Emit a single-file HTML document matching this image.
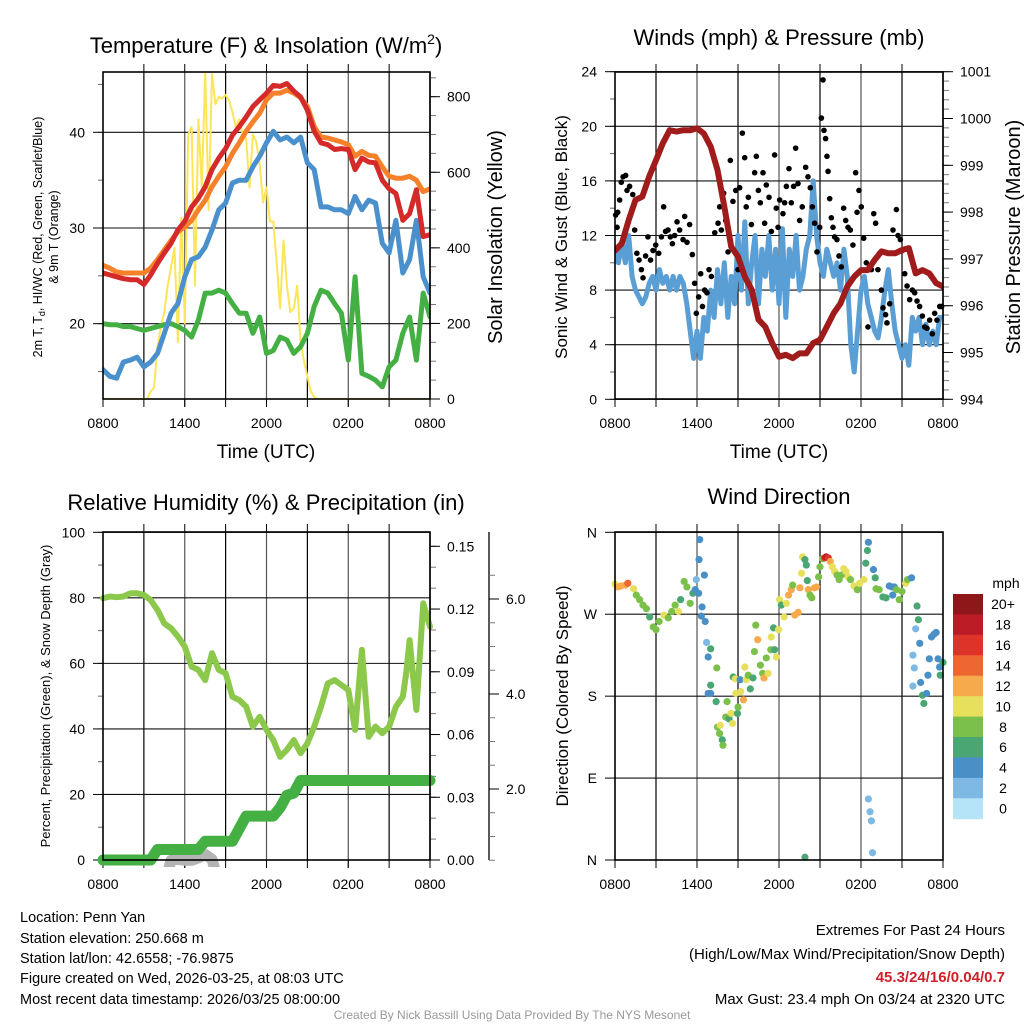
<!DOCTYPE html>
<html><head><meta charset="utf-8">
<style>
body{margin:0;background:#fff;}
svg{display:block;font-family:"Liberation Sans",Arial,sans-serif;}
</style></head>
<body>
<svg id="root" width="1024" height="1024" viewBox="0 0 1024 1024" xmlns="http://www.w3.org/2000/svg">
<rect x="0" y="0" width="1024" height="1024" fill="#fff"/>
<text x="266" y="53" font-size="22" text-anchor="middle">Temperature (F) &amp; Insolation (W/m<tspan font-size="14" dy="-9">2</tspan><tspan dy="9">)</tspan></text>
<text x="779" y="45" font-size="22" text-anchor="middle">Winds (mph) &amp; Pressure (mb)</text>
<text x="266" y="510" font-size="22" text-anchor="middle">Relative Humidity (%) &amp; Precipitation (in)</text>
<text x="779" y="504" font-size="22" text-anchor="middle">Wind Direction</text>

<text transform="translate(42,237) rotate(-90)" font-size="12.5" text-anchor="middle">2m T, T<tspan font-size="9" dy="3">d</tspan><tspan dy="-3">, HI/WC (Red, Green, Scarlet/Blue)</tspan></text>
<text transform="translate(58,237) rotate(-90)" font-size="12.5" text-anchor="middle">&amp; 9m T (Orange)</text>
<text transform="translate(502,237) rotate(-90)" font-size="20" text-anchor="middle">Solar Insolation (Yellow)</text>
<text transform="translate(567,237) rotate(-90)" font-size="17" text-anchor="middle">Sonic Wind &amp; Gust (Blue, Black)</text>
<text transform="translate(1020,237) rotate(-90)" font-size="20" text-anchor="middle">Station Pressure (Maroon)</text>
<text transform="translate(50,696) rotate(-90)" font-size="13" text-anchor="middle">Percent, Precipitation (Green), &amp; Snow Depth (Gray)</text>
<text transform="translate(568,696) rotate(-90)" font-size="17" text-anchor="middle">Direction (Colored By Speed)</text>
<text x="266" y="458" font-size="19" text-anchor="middle">Time (UTC)</text>
<text x="779" y="458" font-size="19" text-anchor="middle">Time (UTC)</text>

<g font-size="14.5">
<text x="20" y="922">Location: Penn Yan</text>
<text x="20" y="943">Station elevation: 250.668 m</text>
<text x="20" y="963">Station lat/lon: 42.6558; -76.9875</text>
<text x="20" y="983">Figure created on Wed, 2026-03-25, at 08:03 UTC</text>
<text x="20" y="1004">Most recent data timestamp: 2026/03/25 08:00:00</text>
</g>
<g font-size="15" text-anchor="end">
<text x="1005" y="935">Extremes For Past 24 Hours</text>
<text x="1005" y="959">(High/Low/Max Wind/Precipitation/Snow Depth)</text>
<text x="1005" y="982" fill="#d0202a" font-weight="bold">45.3/24/16/0.04/0.7</text>
<text x="1005" y="1004">Max Gust: 23.4 mph On 03/24 at 2320 UTC</text>
</g>
<text x="512" y="1019" font-size="12" fill="#999" text-anchor="middle">Created By Nick Bassill Using Data Provided By The NYS Mesonet</text>
<g id="charts"></g>
</svg>
<script>
// ---------- data ----------
const timeLabels = ["0800","1400","2000","0200","0800"];
const tempRed = [25.3,25.1,24.9,24.7,24.6,24.6,24.1,25.1,26.3,27.4,28.4,29.8,30.7,32.2,33.1,34.3,36.1,37.3,38.3,39.7,40.6,41.6,42.7,43.4,44.1,44.9,44.8,45.1,44.3,43.7,42.3,40.1,38.9,38.7,38.2,38.3,38.2,36.1,37.3,36.9,36.8,35.0,34.1,33.6,30.8,31.5,34.0,29.1,29.3];
const tempOrange = [26.1,25.8,25.4,25.3,25.3,25.3,25.3,25.8,26.7,27.7,28.7,29.6,30.1,30.8,31.9,32.9,34.3,35.4,36.4,37.8,38.9,40.1,41.1,42.0,43.4,44.1,44.1,44.4,44.1,43.6,42.7,40.6,39.5,39.4,39.2,39.0,38.7,37.5,38.0,37.6,37.5,36.4,35.4,35.2,35.2,35.4,35.0,33.8,34.1];
const tempBlue = [15.2,14.5,14.3,16.0,16.2,16.5,15.5,16.0,16.9,19.0,21.1,22.1,24.9,26.7,27.0,28.0,29.8,31.9,32.6,34.7,35.0,35.0,36.4,37.5,38.9,40.1,39.2,39.5,38.9,39.5,36.8,36.1,32.2,32.2,31.9,31.9,31.5,33.3,31.9,32.9,32.6,28.4,27.4,30.8,25.3,26.7,30.8,24.9,23.2];
const dewGreen = [20.0,19.9,19.9,19.7,19.7,19.5,19.3,19.5,19.7,19.9,20.0,19.7,19.3,18.6,20.4,23.2,23.2,23.5,23.2,22.1,21.1,21.1,19.0,20.7,16.9,17.2,18.6,18.3,16.9,17.6,19.0,21.8,23.5,23.2,22.1,21.1,16.2,24.9,14.8,14.5,14.1,13.4,15.5,16.2,19.0,20.7,16.2,23.2,20.7];
const insolation = [0,0,0,0,0,0,0,0,0,0,0,0,0,0,20,30,140,190,230,300,350,400,150,480,200,700,720,300,740,560,865,500,860,780,800,795,805,790,760,720,740,700,690,560,700,680,620,520,560,470,470,360,240,420,300,230,240,300,150,100,60,20,5,0,0,0,0,0,0,0,0,0,0,0,0,0,0,0,0,0,0,0,0,0,0,0,0,0,0,0,0,0,0,0,0,0,0];
const pressure = [997.18,997.33,997.83,998.26,998.33,998.76,999.11,999.47,999.75,999.72,999.75,999.75,999.79,999.68,999.4,998.9,998.12,997.26,997.05,996.62,996.34,995.7,995.55,995.2,994.91,994.95,994.88,994.98,994.98,995.2,995.27,995.55,995.84,996.05,996.41,996.62,996.76,996.76,996.98,997.16,997.12,997.12,997.19,997.23,996.69,996.76,996.69,996.48,996.41];
const windSpeed = [11,10,11.5,10,12,9,8,7.5,7,7.5,8.5,9,8,9.5,8.5,9,8,9,8,9,8.5,7,5,3,5,3,6,5,8,6,9.5,7,10,6,9,7,12,8,13,7,10,12,7,11,9,12,8,11,7,12.5,6,11,9,12,8,9,11,12,16,12,10,9,11,10,9,10,8,11,9,4,2,5,8,9,7,6,5,4.5,6,8,9.5,7,5,4,3,4,2.5,6,5,6,4,5.5,4,5,4,6,6];
const gustTimes = [0.05,0.15,0.2,0.34,0.46,0.59,0.78,0.88,1.07,1.3,1.44,1.6,1.76,1.93,2.05,2.24,2.41,2.6,2.78,2.98,3.2,3.4,3.56,3.7,3.88,4.05,4.2,4.37,4.54,4.73,4.98,5.1,5.27,5.46,5.66,5.83,5.95,6.12,6.27,6.4,6.56,6.73,6.88,7.05,7.3,7.54,7.66,7.78,7.95,8.1,8.27,8.44,8.63,8.83,9.0,9.12,9.32,9.49,9.6,9.76,9.98,10.22,10.34,10.49,10.63,10.83,10.95,11.07,11.27,11.44,11.68,11.8,11.93,12.05,12.29,12.41,12.54,12.73,12.9,13.07,13.22,13.39,13.51,13.7,13.95,14.12,14.29,14.44,14.61,14.78,14.98,15.1,15.22,15.29,15.41,15.51,15.59,15.71,15.83,15.95,16.07,16.24,16.39,16.56,16.73,16.88,17.05,17.22,17.41,17.61,17.71,17.85,18.02,18.2,18.39,18.51,18.76,18.93,19.07,19.24,19.37,19.49,19.61,19.8,19.9,20.1,20.34,20.59,20.71,20.88,21.02,21.2,21.37,21.56,21.76,21.93,22.1,22.29,22.49,22.66,22.83,23.02,23.22,23.39,23.56,23.76,23.9];
const gustValues = [13.5,12.6,13.7,14.6,15.9,16.3,16.4,15.3,15.6,15.0,12.4,10.7,10.2,9.5,8.9,10.5,11.9,10.2,10.9,11.3,10.7,11.9,14.1,12.3,12.4,11.9,11.4,12.0,13.0,12.4,11.7,13.4,11.5,12.8,10.6,8.5,6.3,7.5,9.2,6.8,8.0,7.8,9.5,9.0,12.2,12.9,14.1,12.4,15.1,13.1,10.8,17.5,14.5,15.3,9.5,15.5,19.5,17.7,14.1,14.8,12.8,16.6,17.8,15.3,14.4,16.6,12.9,15.7,14.8,12.3,17.9,14.0,12.6,14.6,13.6,14.4,15.6,16.9,14.4,15.6,18.4,15.8,13.1,14.1,17.0,16.3,15.5,14.1,12.9,10.8,12.6,20.6,23.4,19.7,19.1,17.8,16.7,14.7,13.3,12.6,11.9,11.7,10.5,9.7,14.0,13.1,12.6,12.4,11.3,16.6,13.7,15.3,14.1,11.8,10.0,5.3,9.5,13.6,12.9,9.5,10.7,8.0,6.7,6.2,5.6,7.0,12.4,13.9,12.0,11.7,10.9,9.2,8.3,7.3,8.0,7.8,7.2,6.8,6.1,5.3,5.2,5.8,4.8,6.3,5.8,6.8,6.8];
const humidity = [79.9,80.4,80.2,80.4,81.4,81.4,80.9,79.3,76.3,72.2,70.7,68.2,65.1,59.0,58.0,54.9,63.1,58.0,57.0,49.8,48.8,46.8,40.7,43.7,39.7,36.6,31.5,33.6,36.6,32.6,35.6,40.7,46.8,53.9,54.9,53.4,51.9,39.7,64.1,37.6,40.7,38.7,40.7,46.8,49.8,57.0,67.1,45.8,78.3,71.2];
const humidityTimes = [0,0.5,1,1.5,2,2.5,3,3.5,4,4.5,5,5.5,6,6.5,7,7.5,8,8.5,9,9.5,10,10.5,11,11.5,12,12.5,13,13.5,14,14.5,15,15.5,16,16.5,17,17.5,18,18.5,19,19.5,20,20.5,21,21.5,22,22.25,22.5,23,23.5,24];
const precip = [0,0,0,0,0,0,0,0,0.005,0.005,0.005,0.005,0.005,0.005,0.005,0.009,0.009,0.009,0.009,0.009,0.015,0.021,0.021,0.021,0.021,0.021,0.025,0.031,0.032,0.038,0.038,0.038,0.038,0.038,0.038,0.038,0.038,0.038,0.038,0.038,0.038,0.038,0.038,0.038,0.038,0.038,0.038,0.038,0.038];
const snowDepth = [0,0,0,0,0,0,0,0,0,0,0.5,0.52,0.5,0.5,0.55,0.62,0.52,0,0,0,0,0,0,0,0,0,0,0,0,0,0,0,0,0,0,0,0,0,0,0,0,0,0,0,0,0,0,0,0];
const dirTimes = [0,0.2,0.44,0.77,0.94,1.36,1.56,1.8,2.05,2.3,2.54,2.8,3.0,3.23,3.58,3.9,4.15,4.4,4.64,4.8,5.06,5.26,5.5,5.7,5.87,5.95,6.12,6.2,6.15,6.37,6.54,6.32,6.6,6.7,6.82,7.0,6.82,7.0,7.0,7.4,7.45,7.5,7.7,7.65,7.85,7.9,8.1,8.2,8.35,8.5,8.6,8.65,8.8,8.84,8.96,9.0,9.16,9.2,9.4,9.5,9.6,9.75,9.9,10.1,10.2,10.3,10.44,10.64,10.8,10.9,11.07,11.2,11.4,11.43,11.6,11.68,11.8,11.97,12.05,12.17,12.37,12.54,12.7,12.9,13.0,13.16,13.4,13.53,13.65,13.72,13.9,14.0,14.07,14.15,14.27,14.4,14.6,14.75,14.9,15.0,15.2,15.34,15.45,15.6,15.75,15.9,16.07,16.25,16.4,16.57,16.74,16.9,17.06,17.23,17.48,17.73,17.9,18.22,18.35,18.47,18.54,18.91,19.04,19.1,19.33,19.6,19.83,20.07,20.27,20.32,20.44,20.6,20.8,21.0,21.26,21.4,21.7,22.1,22.2,22.0,22.3,21.8,21.9,21.8,22.36,22.5,22.6,22.8,22.9,23.0,23.16,23.34,23.5,23.64,23.75,23.8,24.0,18.54,18.66,18.76,18.84,13.9];
const dirValues = [303,300,301,302,304,298,291,286,280,276,267,256,253,262,269,266,273,280,273,286,306,300,282,293,297,308,293,352,330,278,313,268,262,239,223,232,183,183,192,174,211,146,148,139,132,126,157,174,155,161,150,201,199,183,161,168,198,185,176,212,198,203,188,200,229,258,242,214,205,200,222,205,231,245,255,231,223,253,286,280,267,282,291,297,302,269,272,299,315,333,330,324,307,297,291,288,299,300,311,322,331,332,333,332,328,322,317,313,308,313,320,317,311,308,301,297,304,308,326,340,349,319,310,298,297,289,288,301,300,291,300,297,286,295,304,308,310,279,264,254,238,225,211,191,195,181,172,183,203,221,245,248,250,221,212,203,217,67,53,43,8,3];
const dirSpeeds = [10,12,12,12,13,10,8,8,8,8,6,8,8,8,10,8,8,8,10,6,8,8,8,6,4,2,4,4,4,4,4,4,4,2,4,6,4,4,6,6,8,8,10,8,6,8,8,8,6,10,10,6,10,10,6,8,4,10,12,10,10,8,6,6,8,8,12,8,8,12,8,10,8,10,6,6,10,10,10,6,10,10,12,12,8,12,12,12,10,10,6,6,6,12,8,8,12,12,8,8,8,16,18,16,12,10,10,8,8,8,10,10,10,8,10,8,10,10,6,6,4,4,6,8,8,6,6,4,4,4,4,8,8,8,10,8,4,6,6,2,4,2,2,2,4,6,6,4,4,4,4,4,4,4,4,6,6,2,2,2,2,6];
const speedLevels = ["0","2","4","6","8","10","12","14","16","18","20+"];
const speedColors = ["#b5e3f7","#7db9e3","#4a8fc6","#4aa773","#7bc04b","#e7e05c","#f6aa4b","#ee6630","#dc3429","#bb1c25","#8e1819"];

// ---------- helpers ----------
const NS = "http://www.w3.org/2000/svg";
const root = document.getElementById("charts");
function mk(tag, attrs, parent){
  const e = document.createElementNS(NS, tag);
  for (const k in attrs) e.setAttribute(k, attrs[k]);
  (parent || root).appendChild(e);
  return e;
}
function linScale(d0,d1,r0,r1){ return v => r0 + (v-d0)/(d1-d0)*(r1-r0); }
function pathFrom(xs, ys){ let d=""; for(let i=0;i<xs.length;i++){ d += (i?"L":"M")+xs[i].toFixed(1)+","+ys[i].toFixed(1);} return d; }
function evenTimes(n){ const a=[]; for(let i=0;i<n;i++) a.push(24*i/(n-1)); return a; }

function frame(P, name){
  const g = mk("g", {});
  
  
  for (let h=3; h<24; h+=3){
    const x = P.x(h);
    const l = mk("line", {x1:x,y1:P.y0,x2:x,y2:P.y1,stroke:(h%6===0?"#555":"#000"),"stroke-width":1.2}, g);
    
    
    const t = mk("line", {x1:x,y1:P.y1,x2:x,y2:P.y1+8,stroke:"#000","stroke-width":1}, g);
    
    
    const t2 = mk("line", {x1:x,y1:P.y0,x2:x,y2:P.y0-8,stroke:"#000","stroke-width":1}, g);
    
    
  }
  for (let i=0;i<timeLabels.length;i++){
    const x = P.x(i*6);
    const tk = mk("line", {x1:x,y1:P.y1,x2:x,y2:P.y1+8,stroke:"#000","stroke-width":1}, g);
    
    
    const tl = mk("text", {x:x,y:P.y1+29,"font-size":14,"text-anchor":"middle"}, g);
    tl.textContent = timeLabels[i];
    
    
  }
  return g;
}
function border(P){
  const r = mk("rect", {x:P.x0,y:P.y0,width:P.x1-P.x0,height:P.y1-P.y0,fill:"none",stroke:"#000","stroke-width":1.6});
  
  
}
function leftAxis(P, ys, majors, minors, labels, grid){
  for (const m of minors){
    const y=ys(m); if(y<P.y0-0.5||y>P.y1+0.5) continue;
    const t = mk("line",{x1:P.x0-5,y1:y,x2:P.x0,y2:y,stroke:"#666","stroke-width":1});
    
    
  }
  majors.forEach((m,i)=>{
    const y=ys(m);
    if (grid){
      const gl = mk("line",{x1:P.x0,y1:y,x2:P.x1,y2:y,stroke:"#111","stroke-width":1.1});
      
      
    }
    const t = mk("line",{x1:P.x0-10,y1:y,x2:P.x0,y2:y,stroke:"#000","stroke-width":1});
    
    
    const tl = mk("text",{x:P.x0-18,y:y+5,"font-size":14,"text-anchor":"end"});
    tl.textContent = labels[i];
    
    
  });
}
function rightAxis(P, ax, ys, majors, minors, labels, y0, y1){
  const a = mk("line",{x1:ax,y1:y0,x2:ax,y2:y1,stroke:"#000","stroke-width":1.3});
  
  
  for (const m of minors){
    const y=ys(m); if(y<y0-0.5||y>y1+0.5) continue;
    const t = mk("line",{x1:ax,y1:y,x2:ax+6,y2:y,stroke:"#777","stroke-width":1});
    
    
  }
  majors.forEach((m,i)=>{
    const y=ys(m);
    const t = mk("line",{x1:ax,y1:y,x2:ax+10,y2:y,stroke:"#000","stroke-width":1});
    
    
    const tl = mk("text",{x:ax+17,y:y+5,"font-size":14});
    tl.textContent = labels[i];
    
    
  });
}
function range(a,b,s){ const r=[]; for(let v=a; v<=b+1e-9; v+=s) r.push(+v.toFixed(4)); return r; }
function clipFor(P, id){
  const cp = mk("clipPath",{id:id});
  mk("rect",{x:P.x0,y:P.y0,width:P.x1-P.x0,height:P.y1-P.y0}, cp);
  return "url(#"+id+")";
}
function series(P, times, vals, ys, color, w, name, clip){
  const p = mk("path",{d:pathFrom(times.map(P.x), vals.map(ys)),fill:"none",stroke:color,"stroke-width":w,"stroke-linejoin":"round","stroke-linecap":"round","clip-path":clip});
  
  
  return p;
}

// ---------- panel 1 ----------
const P1 = {x0:103,x1:430,y0:72,y1:399}; P1.x = linScale(0,24,P1.x0,P1.x1);
const y1L = linScale(20,40,323.7,132.3), y1R = linScale(0,800,399,96.7);
frame(P1,'temperature');
leftAxis(P1, y1L, [20,30,40], range(15,45,5), ["20","30","40"], true);
rightAxis(P1, 430, y1R, [0,200,400,600,800], range(0,850,50), ["0","200","400","600","800"], 72, 399);
const c1 = clipFor(P1,"c1");
series(P1, evenTimes(insolation.length), insolation, y1R, "#fde55a", 2, "solar-insolation-line", c1);
series(P1, evenTimes(dewGreen.length), dewGreen, y1L, "#44b044", 5, "dewpoint-line", c1);
series(P1, evenTimes(tempBlue.length), tempBlue, y1L, "#4a90cc", 5, "wind-chill-line", c1);
series(P1, evenTimes(tempOrange.length), tempOrange, y1L, "#f5822a", 5, "temp-9m-line", c1);
series(P1, evenTimes(tempRed.length), tempRed, y1L, "#d42a2a", 5, "temp-2m-line", c1);
border(P1);

// ---------- panel 2 ----------
const P2 = {x0:615,x1:943,y0:72,y1:399}; P2.x = linScale(0,24,P2.x0,P2.x1);
const y2L = linScale(0,24,399.3,71.7), y2R = linScale(994,1001,399.3,71.7);
frame(P2,'winds');
leftAxis(P2, y2L, [0,4,8,12,16,20,24], range(0,24,2), ["0","4","8","12","16","20","24"], true);
rightAxis(P2, 943, y2R, [994,995,996,997,998,999,1000,1001], range(994,1001,0.2), ["994","995","996","997","998","999","1000","1001"], 72, 399);
const c2 = clipFor(P2,"c2");
series(P2, evenTimes(windSpeed.length), windSpeed, y2L, "#5a9ed6", 5, "sonic-wind-line", c2);
for (let i=0;i<gustTimes.length;i++){
  const d = mk("circle",{cx:P2.x(gustTimes[i]),cy:y2L(gustValues[i]),r:2.8,fill:"#000"});
  
  
}
series(P2, evenTimes(pressure.length), pressure, y2R, "#a01c1c", 6, "pressure-line", c2);
border(P2);

// ---------- panel 3 ----------
const P3 = {x0:103,x1:430,y0:532,y1:860}; P3.x = linScale(0,24,P3.x0,P3.x1);
const y3L = linScale(0,100,860,532.3), y3P = linScale(0,0.15,860,546.3), y3S = linScale(2,4,789,694);
frame(P3,'humidity');
leftAxis(P3, y3L, [0,20,40,60,80,100], range(0,100,10), ["0","20","40","60","80","100"], true);
rightAxis(P3, 430, y3P, [0,0.03,0.06,0.09,0.12,0.15], range(0,0.15,0.01), ["0.00","0.03","0.06","0.09","0.12","0.15"], 532, 860);
rightAxis(P3, 489, y3S, [2,4,6], range(0,6.8,0.5), ["2.0","4.0","6.0"], 532, 860);
const c3 = mk("clipPath",{id:"c3"});
mk("rect",{x:95,y:P3.y0,width:345,height:P3.y1-P3.y0+7}, c3);
series(P3, evenTimes(snowDepth.length), snowDepth, y3S, "#b4b4b4", 11, "snow-depth-line", "url(#c3)");
series(P3, humidityTimes, humidity, y3L, "#8cc84b", 6, "humidity-line", "url(#c3)");
series(P3, evenTimes(precip.length), precip, y3P, "#44b044", 11, "precipitation-line", "url(#c3)");
border(P3);

// ---------- panel 4 ----------
const P4 = {x0:615,x1:943,y0:532,y1:860}; P4.x = linScale(0,24,P4.x0,P4.x1);
const y4 = linScale(0,360,860,532.3);
frame(P4,'wind-direction');
leftAxis(P4, y4, [0,90,180,270,360], [], ["N","E","S","W","N"], true);
for (let i=0;i<dirTimes.length;i++){
  const idx = Math.min(10, Math.max(0, Math.round(dirSpeeds[i]/2)));
  const d = mk("circle",{cx:P4.x(dirTimes[i]),cy:y4(dirValues[i]),r:3.6,fill:speedColors[idx]});
  
  
}
border(P4);
const cb = mk("g",{});


const cbTop = 594, cbH = 224.7/11;
for (let i=0;i<speedLevels.length;i++){
  const k = speedLevels.length-1-i;
  const r = mk("rect",{x:953,y:cbTop+i*cbH,width:30,height:cbH+0.5,fill:speedColors[k]}, cb);
  
  
  const t = mk("text",{x:1003,y:cbTop+i*cbH+cbH/2+5,"font-size":14,"text-anchor":"middle"}, cb);
  t.textContent = speedLevels[k];
  
  
}
const mph = mk("text",{x:1006,y:588,"font-size":14,"text-anchor":"middle"}, cb);
mph.textContent = "mph";


</script>
</body></html>
